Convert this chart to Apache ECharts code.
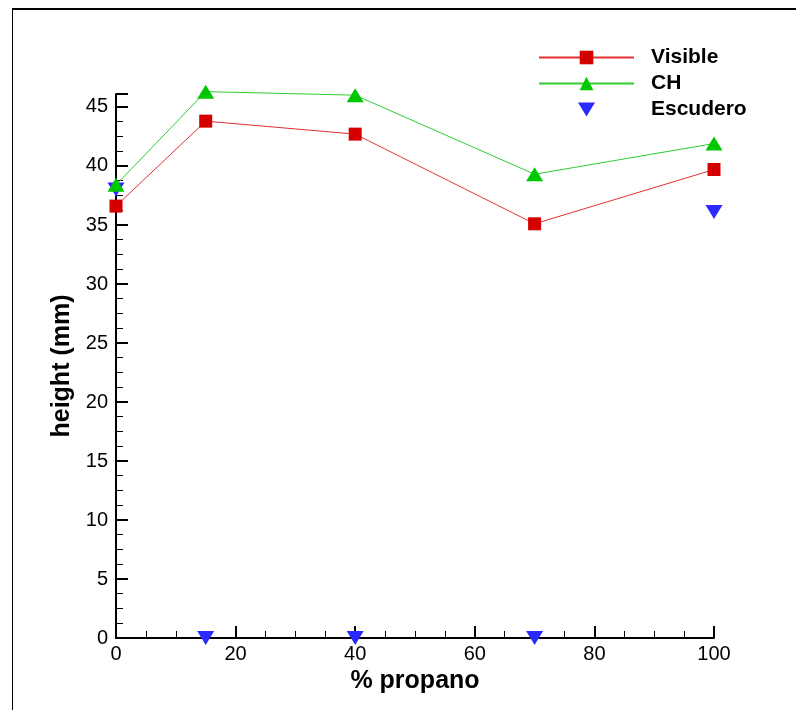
<!DOCTYPE html>
<html>
<head>
<meta charset="utf-8">
<script src="https://cdn.jsdelivr.net/npm/echarts@6/dist/echarts.min.js"></script>
<style>html,body{margin:0;padding:0;background:#fff}#c{width:796px;height:710px}</style>
</head>
<body>
<div id="c"></div>
<script>
var propano = [0, 15, 40, 70, 100];
var visible = [36.6, 43.8, 42.7, 35.1, 39.7];
var ch = [38.4, 46.3, 46.0, 39.3, 41.9];
var escuderoX = [0, 15, 40, 70, 100];
var escudero = [38.0, 0, 0, 0, 36.1];

function pairs(xs, ys) { return xs.map(function (x, i) { return [x, ys[i]]; }); }

var chart = echarts.init(document.getElementById('c'));
var FONT = 'Liberation Sans, Arial, sans-serif';
chart.setOption({
  animation: false,
  backgroundColor: '#fff',
  graphic: [
    { type: 'line', shape: { x1: 12, y1: 9, x2: 800, y2: 9 }, style: { stroke: '#000', lineWidth: 2 } },
    { type: 'line', shape: { x1: 12.5, y1: 9, x2: 12.5, y2: 720 }, style: { stroke: '#000', lineWidth: 1 } }
  ],
  grid: { left: 116, right: 82, top: 94, bottom: 72, containLabel: false },
  legend: {
    left: 538, top: 47, orient: 'vertical', padding: 0,
    itemWidth: 95, itemHeight: 17, itemGap: 5,
    textStyle: { fontFamily: FONT, fontWeight: 'bold', fontSize: 21, lineHeight: 17, color: '#000', padding: [0, 0, 0, 12] },
    data: [
      { name: 'Visible' },
      { name: 'CH' },
      { name: 'Escudero', icon: 'path://M0,0 M21,17 M2,1.5 L19,1.5 L10.5,15.5 Z' }
    ]
  },
  xAxis: {
    type: 'value', min: 0, max: 100, interval: 20,
    name: '% propano', nameLocation: 'middle', nameGap: 27,
    nameTextStyle: { fontFamily: FONT, fontWeight: 'bold', fontSize: 25, color: '#000' },
    axisLine: { show: true, lineStyle: { color: '#000', width: 2 } },
    axisTick: { show: true, inside: true, length: 12, lineStyle: { color: '#000', width: 2 } },
    minorTick: { show: true, splitNumber: 4, length: 7, lineStyle: { color: '#000', width: 1 } },
    axisLabel: { fontFamily: FONT, fontSize: 20, color: '#000', margin: 6 },
    splitLine: { show: false }
  },
  yAxis: {
    type: 'value', min: 0, max: 46.1, interval: 5,
    name: 'height (mm)', nameLocation: 'middle', nameGap: 41, nameRotate: 90,
    nameTextStyle: { fontFamily: FONT, fontWeight: 'bold', fontSize: 25, color: '#000' },
    axisLine: { show: true, lineStyle: { color: '#000', width: 2 } },
    axisTick: { show: true, inside: true, length: 12, lineStyle: { color: '#000', width: 2 } },
    minorTick: { show: true, splitNumber: 4, length: 7, lineStyle: { color: '#000', width: 1 } },
    axisLabel: { fontFamily: FONT, fontSize: 20, color: '#000', margin: 8, showMaxLabel: false },
    splitLine: { show: false }
  },
  series: [
    {
      name: 'Visible', type: 'line', data: pairs(propano, visible), clip: false,
      symbol: 'rect', symbolSize: 13,
      lineStyle: { color: '#e03030', width: 1 },
      itemStyle: { color: '#d40000' }
    },
    {
      name: 'CH', type: 'line', data: pairs(propano, ch), clip: false,
      symbol: 'triangle', symbolSize: [17, 14],
      lineStyle: { color: '#30cc30', width: 1 },
      itemStyle: { color: '#00c800' }
    },
    {
      name: 'Escudero', type: 'scatter', data: pairs(escuderoX, escudero), clip: false,
      symbol: 'triangle', symbolRotate: 180, symbolSize: [17, 14],
      itemStyle: { color: '#2a2aff', opacity: 1 }
    }
  ]
});
</script>
</body>
</html>
